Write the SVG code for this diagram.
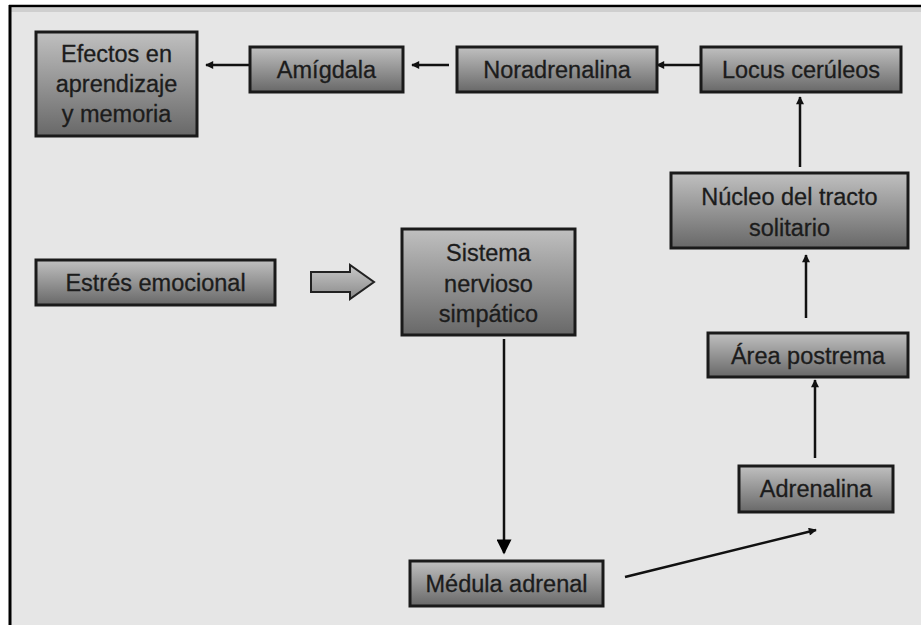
<svg xmlns="http://www.w3.org/2000/svg" width="921" height="625" viewBox="0 0 921 625">
  <defs>
    <linearGradient id="boxFill" x1="0" y1="0" x2="0" y2="1">
      <stop offset="0" stop-color="#c0c0c0"/>
      <stop offset="1" stop-color="#686868"/>
    </linearGradient>
    <linearGradient id="blockFill" x1="0" y1="0" x2="0" y2="1">
      <stop offset="0" stop-color="#c8c8c8"/>
      <stop offset="1" stop-color="#8a8a8a"/>
    </linearGradient>
    <marker id="head" viewBox="0 0 10 10" refX="9" refY="5" markerWidth="9" markerHeight="8" markerUnits="userSpaceOnUse" orient="auto">
      <path d="M0,0 L10,5 L0,10 Z" fill="#111"/>
    </marker>
    <marker id="headBig" viewBox="0 0 10 10" refX="9" refY="5" markerWidth="17" markerHeight="15" markerUnits="userSpaceOnUse" orient="auto">
      <path d="M0,0 L10,5 L0,10 Z" fill="#000"/>
    </marker>
  </defs>
  <style>
    .box { fill: url(#boxFill); stroke: #1a1a1a; stroke-width: 3; }
    .lbl { font-family: "Liberation Sans", Arimo, Helvetica, sans-serif; font-size: 23.5px; fill: #1c1c1c; stroke: #1c1c1c; stroke-width: 0.3; text-anchor: middle; }
    .con { stroke: #111; stroke-width: 2.5; fill: none; }
  </style>

  <!-- page and frame -->
  <rect x="0" y="0" width="921" height="625" fill="#ffffff"/>
  <rect x="10" y="6" width="911" height="619" fill="#e6e6e6"/>
  <rect x="11" y="8" width="910" height="4" fill="#cfcfcf"/>
  <line x1="9" y1="6" x2="921" y2="6" stroke="#000" stroke-width="2.5"/>
  <line x1="10" y1="5" x2="10" y2="625" stroke="#000" stroke-width="3"/>

  <g id="connectors">
    <line class="con" x1="249" y1="65" x2="206" y2="65" marker-end="url(#head)"/>
    <line class="con" x1="449" y1="65" x2="412" y2="65" marker-end="url(#head)"/>
    <line class="con" x1="701" y1="65" x2="657" y2="65" marker-end="url(#head)"/>
    <line class="con" x1="800" y1="167" x2="800" y2="97" marker-end="url(#head)"/>
    <line class="con" x1="806" y1="318" x2="806" y2="255" marker-end="url(#head)"/>
    <line class="con" x1="815" y1="458" x2="815" y2="380" marker-end="url(#head)"/>
    <line class="con" x1="625" y1="577" x2="816" y2="530" marker-end="url(#head)"/>
    <line class="con" x1="504" y1="339" x2="504" y2="553" marker-end="url(#headBig)"/>
    <!-- hollow block arrow -->
    <path d="M311,272 L350,272 L350,265 L374,282 L350,299 L350,292 L311,292 Z" fill="url(#blockFill)" stroke="#222" stroke-width="2"/>
  </g>

  <g id="efectos">
    <rect class="box" x="36" y="32" width="161" height="104"/>
    <text class="lbl" x="116.5" y="62">Efectos en</text>
    <text class="lbl" x="116.5" y="92">aprendizaje</text>
    <text class="lbl" x="116.5" y="122">y memoria</text>
  </g>
  <g id="amigdala">
    <rect class="box" x="250" y="47" width="153" height="45"/>
    <text class="lbl" x="326.5" y="78">Amígdala</text>
  </g>
  <g id="noradrenalina">
    <rect class="box" x="457" y="47" width="200" height="45"/>
    <text class="lbl" x="557" y="78">Noradrenalina</text>
  </g>
  <g id="locus">
    <rect class="box" x="701" y="47" width="200" height="45"/>
    <text class="lbl" x="801" y="78">Locus cerúleos</text>
  </g>
  <g id="nucleo">
    <rect class="box" x="671" y="173" width="237" height="75"/>
    <text class="lbl" x="789.5" y="205">Núcleo del tracto</text>
    <text class="lbl" x="789.5" y="236">solitario</text>
  </g>
  <g id="estres">
    <rect class="box" x="36" y="260" width="239" height="45"/>
    <text class="lbl" x="155.5" y="291">Estrés emocional</text>
  </g>
  <g id="sistema">
    <rect class="box" x="402" y="229" width="173" height="106"/>
    <text class="lbl" x="488.5" y="261">Sistema</text>
    <text class="lbl" x="488.5" y="292">nervioso</text>
    <text class="lbl" x="488.5" y="322">simpático</text>
  </g>
  <g id="area-postrema">
    <rect class="box" x="708" y="333" width="200" height="44"/>
    <text class="lbl" x="808" y="364">Área postrema</text>
  </g>
  <g id="adrenalina">
    <rect class="box" x="739" y="466" width="154" height="46"/>
    <text class="lbl" x="816" y="497">Adrenalina</text>
  </g>
  <g id="medula">
    <rect class="box" x="410" y="561" width="193" height="45"/>
    <text class="lbl" x="506.5" y="592">Médula adrenal</text>
  </g>
</svg>
